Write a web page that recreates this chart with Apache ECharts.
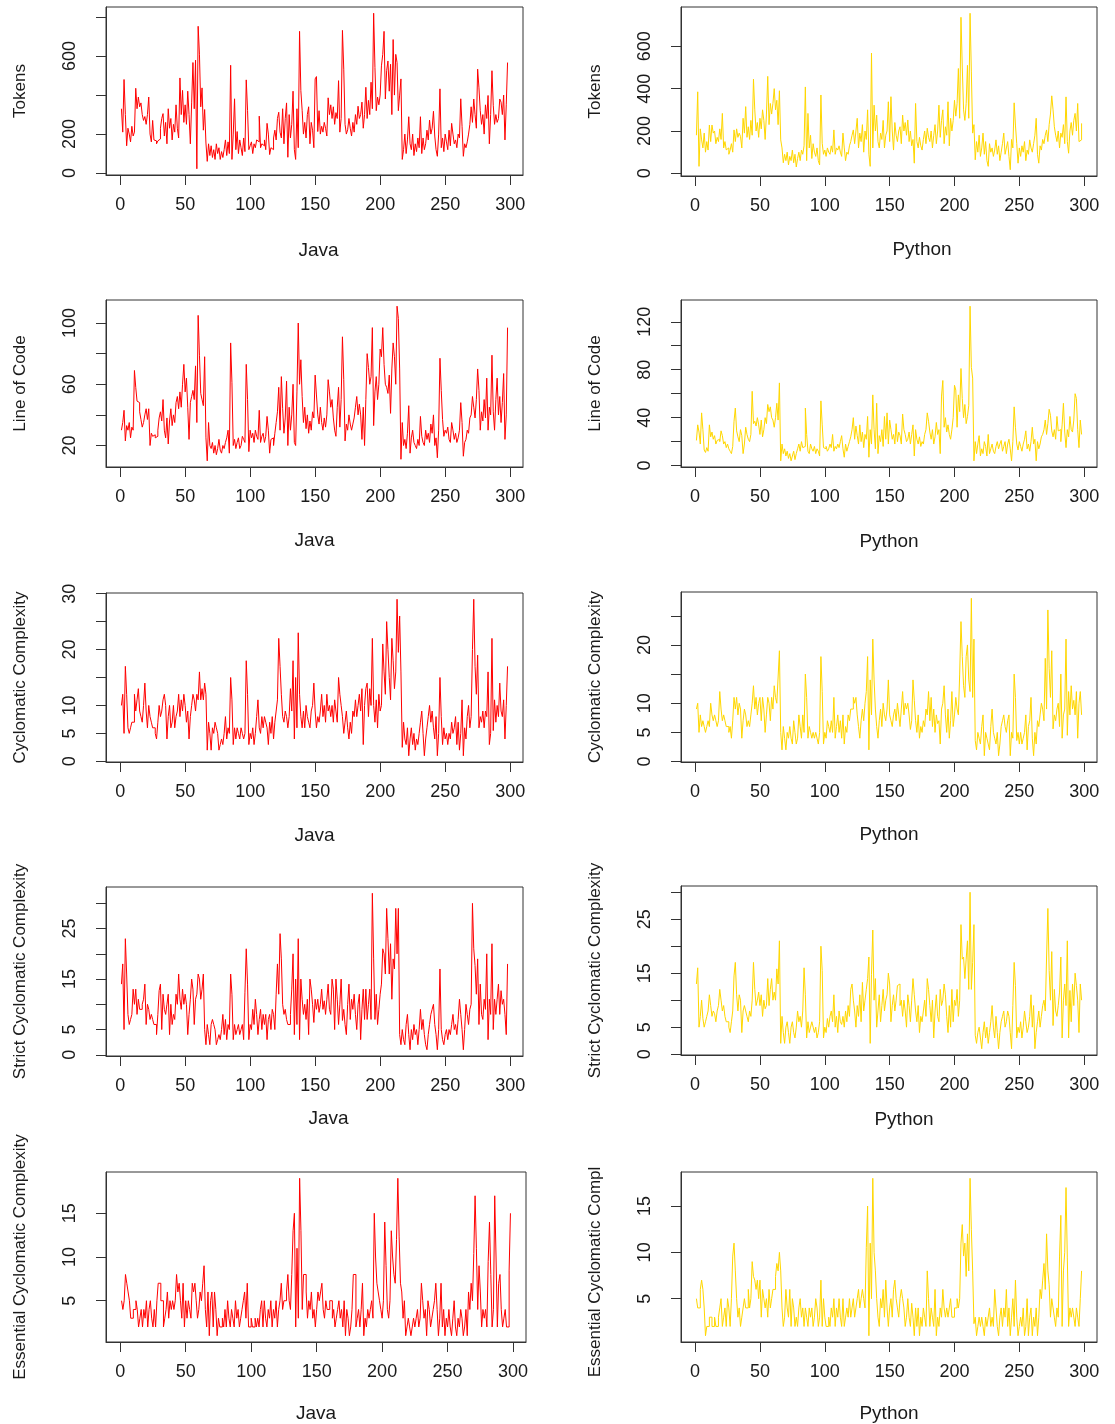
<!DOCTYPE html>
<html>
<head>
<meta charset="utf-8">
<script src="https://cdn.jsdelivr.net/npm/echarts@6/dist/echarts.min.js"></script>
<style>
  html, body { margin: 0; padding: 0; background: #fff; }
  #main { width: 1115px; height: 1424px; }
</style>
</head>
<body>
<div id="main"></div>
<script>
// values per file index (1..298)
var javaTokens = [
  330,210,480,300,140,230,200,160,240,190,
  210,435,330,390,340,360,300,270,290,250,
  300,390,200,160,270,170,165,150,165,175,
  230,280,305,190,260,150,330,230,280,170,
  250,210,350,230,180,488,300,424,260,350,
  250,420,300,150,360,567,330,579,22,753,
  610,340,437,220,326,154,60,150,90,140,
  80,120,70,150,100,130,70,110,80,120,
  170,90,160,100,553,70,200,381,120,213,
  100,170,130,90,180,110,478,322,120,140,
  160,100,150,130,170,160,292,130,150,140,
  170,120,255,200,95,130,120,180,220,170,
  280,312,210,180,330,150,280,360,81,300,
  180,250,420,120,70,330,130,727,423,322,
  200,260,180,300,340,150,260,220,130,483,
  495,213,320,200,240,210,260,230,190,386,
  300,350,280,340,250,310,280,474,210,280,
  732,533,250,200,222,280,230,190,260,210,
  300,250,343,280,300,364,230,300,440,280,
  373,300,466,330,820,542,320,390,350,400,
  550,609,727,380,525,575,420,558,300,685,
  400,609,567,320,400,483,70,120,200,100,
  170,289,150,120,200,90,150,110,180,130,
  289,100,180,120,150,220,170,272,200,230,
  317,190,120,86,200,432,130,180,110,200,
  160,120,220,140,255,200,150,170,130,200,
  180,381,240,86,150,130,160,200,250,340,
  260,380,300,230,533,437,320,250,300,200,
  350,280,398,150,300,525,348,250,300,260,
  280,380,364,300,400,170,350,567
];
var pythonTokens = [
  180,385,33,210,158,120,190,100,150,110,
  228,150,228,190,200,140,170,150,210,160,
  283,120,150,111,120,90,110,140,100,205,
  150,210,170,190,174,120,260,190,315,170,
  220,160,250,180,445,300,200,240,170,260,
  210,300,250,160,280,458,230,330,280,330,
  400,300,345,230,390,158,120,50,90,60,
  100,40,80,60,110,50,90,30,70,100,
  60,110,90,130,408,60,283,120,180,70,
  140,100,80,120,60,40,370,142,90,110,
  80,120,100,90,130,100,205,90,120,110,
  130,100,80,190,120,60,100,90,130,150,
  180,205,140,200,260,120,190,150,230,100,
  200,160,300,90,33,568,120,322,200,275,
  150,120,190,160,250,120,180,200,338,150,
  362,200,110,240,180,150,200,220,140,275,
  200,240,180,252,150,200,130,160,48,330,
  150,120,170,130,110,160,200,140,213,170,
  150,200,120,180,230,140,200,322,170,250,
  300,140,220,180,338,130,260,200,250,345,
  270,330,495,260,737,502,300,250,330,510,
  260,756,479,190,230,64,150,100,180,80,
  120,190,90,150,60,33,140,100,120,80,
  110,158,90,130,60,100,140,190,90,120,
  150,80,17,160,120,333,228,140,48,120,
  80,130,100,150,60,110,90,158,120,100,
  140,180,260,90,48,130,110,160,140,180,
  205,150,230,280,366,300,220,180,150,200,
  120,190,170,230,140,361,150,95,200,240,
  180,250,283,200,330,150,158,236
];
var javaLoc = [
  30,35,43,23,33,30,35,25,32,30,
  69,58,49,48,42,37,32,35,40,44,
  37,44,20,28,26,27,25,26,30,38,
  42,36,50,30,25,38,21,36,44,33,
  40,35,48,52,44,55,45,60,73,55,
  64,45,24,48,52,56,50,72,35,105,
  79,54,50,46,78,25,10,35,20,18,
  22,15,20,14,18,24,17,15,20,18,
  22,25,30,15,87,61,20,24,18,22,
  25,18,20,26,24,22,73,50,16,30,
  25,28,22,30,26,24,43,22,26,28,
  22,26,39,30,15,24,25,20,28,35,
  42,58,30,65,44,28,38,62,20,45,
  30,40,60,22,20,55,100,60,76,52,
  35,45,31,40,28,36,30,42,38,66,
  53,40,34,45,35,30,38,32,40,63,
  55,45,50,38,30,26,45,58,32,50,
  91,63,23,34,30,40,34,30,34,38,
  45,52,40,47,40,24,45,20,50,80,
  71,60,65,97,33,55,65,50,60,83,
  78,97,73,60,58,54,66,41,70,87,
  78,60,111,103,70,11,35,20,24,18,
  28,46,15,25,30,22,20,18,24,20,
  39,26,22,20,30,24,28,22,34,28,
  40,20,25,12,30,77,56,37,26,30,
  28,32,24,22,35,30,24,28,22,25,
  30,48,35,13,22,24,30,28,38,40,
  52,45,38,50,70,56,30,42,36,50,
  38,64,30,45,40,79,42,30,50,64,
  40,52,35,48,67,24,40,97
];
var pythonLoc = [
  21,34,28,18,44,30,13,11,15,12,
  34,24,28,22,25,18,21,22,20,29,
  25,18,20,15,18,14,12,10,16,37,
  48,29,24,20,30,25,10,18,32,26,
  22,20,26,62,35,37,33,40,34,26,
  38,24,30,40,35,51,45,49,40,38,
  32,40,52,38,69,4,18,10,14,8,
  12,6,10,4,8,12,5,10,14,18,
  12,20,15,16,48,26,12,10,18,14,
  12,16,10,14,12,8,54,34,15,14,
  16,12,14,18,15,26,12,16,14,18,
  15,20,25,14,7,18,12,16,20,24,
  30,40,22,33,25,18,34,20,28,15,
  26,22,41,7,30,18,59,30,14,52,
  10,25,20,30,16,41,22,44,18,38,
  30,22,26,18,35,20,28,25,18,43,
  30,26,20,22,28,18,26,34,8,30,
  22,18,24,16,20,18,26,30,44,37,
  28,22,30,18,24,36,26,30,10,58,
  71,32,40,28,34,26,22,30,40,67,
  63,32,59,45,81,56,40,51,35,41,
  50,133,82,73,4,20,10,18,25,8,
  14,10,20,16,8,26,10,14,18,12,
  10,16,20,14,18,21,12,16,20,10,
  18,22,14,4,20,49,32,18,13,20,
  16,12,18,22,29,14,18,12,20,32,
  18,22,4,20,14,18,24,26,30,38,
  26,35,47,42,29,24,30,22,41,29,
  30,20,34,52,28,15,30,24,41,30,
  28,38,60,56,30,15,38,26
];
var javaCc = [
  10,12,5,17,12,6,5,6,7,7,
  12,9,11,13,9,8,7,10,14,9,
  6,10,8,7,6,6,5,4,7,10,
  8,9,11,12,10,4,8,10,6,7,
  10,6,8,9,12,8,11,9,12,10,
  7,9,4,8,10,12,11,9,12,11,
  16,11,13,11,14,12,2,7,5,2,
  6,5,7,6,5,2,3,4,3,5,
  8,4,6,5,15,11,3,6,4,6,
  5,4,6,5,4,5,18,12,3,5,
  4,6,3,5,8,11,6,5,8,6,
  8,7,6,3,7,5,8,4,7,9,
  11,22,17,12,8,7,9,8,6,8,
  13,9,18,4,15,6,23,12,8,6,
  9,6,10,8,7,6,9,10,14,9,
  6,8,7,9,12,8,10,7,12,9,
  10,8,10,7,11,9,7,15,12,10,
  8,5,7,9,6,4,7,5,9,8,
  11,8,10,12,9,13,3,10,13,14,
  8,13,10,22,10,7,11,6,12,9,
  10,21,16,12,25,20,15,11,22,18,
  13,16,29,19.5,26,16,2.5,7,4,3,
  6,1,4,6,3,5,2,4,3,5,
  7,9,5,1,4,6,8,10,7,9,
  6,4,8,1,5,15,8,3,6,4,
  5,3,5,4,7,5,6,8,3,7,
  2,5,11,1,6,4,8,10,6,8,
  20,29,17,12,19,6,8,7,9,6,
  9,8,16,3,5,22,5.5,11,7,10,
  8,14,9,8,11,4,10,17
];
var pythonCc = [
  9,10,5,8,6,7,6,5,6,7,
  6,10,8,7,8,7,6,7,12,9,
  7,8,7,6,6,5,6,4,7,11,
  9,11,8,10,9,4,7,9,8,6,
  7,6,8,10,13,9,11,8,10,11,
  7,11,9,5,8,11,10,7,11,9,
  13,11,10,14.5,19,5,2,6,4,2,
  5,4,6,4,3,7,5,3,4,8,
  6,4,8,5,15,11,4,6,5,4,
  5,4,5,4,3,5,18,12,3,5,
  4,7,6,5,7,5,11,4,6,8,
  5,7,4,8,3,6,5,8,7,9,
  9,11,10,11,8,6,4,7,9,7,
  10,12,18,2,14,8,21,14,9,6,
  4,7,9,6,10,8,7,9,14,8,
  7,6,8,9,7,10,8,6,9,12,
  8,10,9,10,8,5.5,7,14,10.5,7,
  5,8,4,6,5,7,6,9,8,12,
  7,11,6,9,5,8,6.5,7,3,9,
  10,13,8,5,9,4,7,12,6,8,
  11,9,8,15,24,18,13,11,18,20,
  14,12,28,11,21,3.6,2,5,4,3,
  6,8,1,5,4,3,2,6,9,5,
  4,3,5,1,3,6,7,8,6,5,
  7,8,1,5,4,15,11,3.6,5,3,
  5,3,4,5,8,2,6,7,11,4,
  1,5,3,7,6,8,10,9,7,17.7,
  9,26,16,11,19,5.6,8,7,9,10,
  6,15,4,8,9,21,4.5,12,8,13,
  9,10.5,8,12,4,10,12,8
];
var javaStrictCc = [
  14,18,5,23,16,8,6,7,8,13,
  10,13,8,11,9,9,10,11,14,6,
  10,9,7,8,7,6,6,4,8,12.7,
  14,5,12,9,8,10,12,4,10,6,
  8,7,12,10,16,11,9,13,10,12,
  10,4,8,11,15,13,6,11,12,16,
  15,11,13,16,5,2,6,4,2,6,
  7,6,5,2,3,4,3,5,8,4,
  7,3,6,5,16,12,3,6,4,5,
  6,4,5,6,3,12.4,21,14,3,6,
  5,9,6,11,8,4,7,9,5,8,
  6,8,3,7,8,5,9,8,5,12,
  18,12,24,19,10,8,9,7,6,6,
  8,13,20,4,15,6,23,3,15,11,
  8,10,7,11,4,15,13,10,6.4,11,
  9,11,8.4,10,13,9,10.7,8,11,14,
  9,8,15,13,5,15,11,6,10,15,
  6.8,9,6,4,10,14,7,11,9,12,
  8,5,10,12,3,9,13,7,13,7,
  10,13,7,32,19,7,12,6,9,12,
  14,21,20,16,29,23,16,22,11,19,
  17,29,20,29,4,2,5,3,2,6,
  8,4,1,5,3,6,4,5,2,5,
  9,5,7,4,2,1,4,6,8,9,
  10,6,4,1,5,17,5,3,2,4,
  5,3,5,4,6,8,5,6,4,7,
  11,8,5,1,5,10,8,6,9,10,
  30,21,17.7,12,19,6,14,8,7,11,
  9,20,3,11,8,22,5,11,8,11,
  14,8,12.7,10,11,8,4,18
];
var pythonStrictCc = [
  13,16,5,7,10,6.6,5,6,7,8,
  11,9,7,8,7.5,6,8,9,12,10,
  8,9,7,6,6,5,4,6,8,14.5,
  17,11,8,11,10,4,8,9,8,7,
  6,8,7,10,17,12,9,10,11.5,9,
  11,7,10,8.4,9,14,9,12,14,10,
  11.5,10,15.8,13,21,2,7,4,2,5,
  6,4,2,5,6,4,3,5,8,6,
  7,5,8,16,11,3,6,4,5,6,
  5,4,5,3,4,6,20,15.5,3,5,
  4,6.6,5,7,8,6,11,5,7,4,
  8,6,5.5,7,5,8,6,9,7,12,
  13,10,8,5,9,7,11,6,13.3,8,
  10,12,14,18,2,14.8,23,10,14,5,
  8,11,6,9,12,8,10,11,15,13,
  6,9,11,8,10,12.7,13,9,10,7,
  10,8,5,11,9,6,10,14,11,8,
  6,9,4,7,6,8,10,7,14,12,
  9,6,10,3,8,11,7,6,12,9,
  10,13,11,7,4,9,5,12,6,10,
  9,12,7,10,24,17.6,18,14,17.6,21,
  12,30,12,17,24,3.5,2,4,5,3,
  1,4,6,3,5,2,4,6,9,5,
  3,7,4,1,4,6,7,8,5,6,
  8,7,4,1,9,17,12.7,3,5,4,
  6,3,5,8,6,4,5,7,11,5,
  9,1,4,6,8,5,7,9,10,8,
  18,27,15.5,10,19,5.3,12,8,7,9,
  11.5,18,3,10,13,9,21,3,11.8,6,
  13,9,15,12.7,10,4,13,10
];
var javaEssentialCc = [
  5,4,5,8,7,6,5,3,3,4,
  4,5,4,2,3,4,2,4,3,5,
  2,4,5,3,2,4,2,5,7,7,
  5,5,2,3,4,6,3,5,4,5,
  4,5,8,6,7,5,3,7,2,5,
  3,5,4,3,7,6,7,5,3,4,
  6,5,7,9,4,2,6,1,5,6,
  2,6,4,1,3,2,2,3,2,4,
  2,5,3,2,4,3,2,5,3,4,
  2,3,4,5,6,3,7,2,2,3,
  2,2,3,2,3,2,4,5,2,5,
  3,2,4,3,5,2,4,3,5,2,
  4,5,7,4,5,5,6,8,5,4,
  8,13,15,2,11,3,19,13,4,8,
  8,6,3,5,4,6,3,4,2,4,
  6,5,6,7,4,3,5,4,4,5,
  5,3,4,2,3,4,5,3,4,2,
  5,1,4,3,1,2,4,8,8,2,
  3,4,2,4,7,1,3,2,4,3,
  4,5,3,15,10,7,6,5,4,3,
  5,14,9,4,3,5,13,10,8,7,
  12,19,12.3,7,6,3,5,1,2,3,
  2,1,2,3,2,3,4,2,3,7,
  5,3,4,1,5,4,2,3,4,5,
  7,4,1,3,7,2,4,1,3,2,
  4,2,1,3,5,2,1,3,2,4,
  3,1,2,4,1,6,4,7,5,10.4,
  17,11,4,9,6,2,4,3,4,2,
  9.5,14,8,2,4,17,10,2,7,8,
  4,2,3,4,2,2,8.5,15
];
var pythonEssentialCc = [
  5,4,4,6,7,6,4,1,2,2,
  3,3,2,2,3,2,2,3,4,5,
  2,3,4,2,5,4,2,5,9.6,11,
  8,5,3,4,2,3,4,5,4,4,
  6,4,5,9,7.4,7,6,7,5,7,
  3,6,5,4,5,3,6,4,5,6,
  6,7.4,8.8,8,10,8,4,2,3,6,
  4,3,6,2,5,4,2,3,2,4,
  5,3,4,2,4,3,2,4,3,4,
  2,3,5,4,2,3,7,2,5,3,
  2,2,3,2,4,3,5,2,4,3,
  5,3,2,5,2,3,4,3,5,3,
  4,5,3,4,5,6,4,5,6,5,
  4,10.5,15,1,11,5,18,10,8,5,
  3,2,5,4,6,3,7,4,2,4,
  5,3,6,7,5,4,3,5,6,5,
  4,2,3,5,3,2,4.5,3,1,4,
  2,4,1,3,2,4,3,2,8,5,
  2,4,3,2,6,1,3,2,4,3,
  6,4,3,4,3,4,5,3,3,4,
  4,5,4,5,11,13,9.6,11,7.4,12,
  8,18,12.5,8,2.3,3,1,2,3,2,
  3,2,1,3,2,3,4,2,3,2,
  6,4,2,1,3,4,2,4,3,6,
  2,4,1,3,5,2,7,3,1,2,
  3,2,4,1,2,5,1,3,4,1,
  3,2,4,1,3,6,5,7,8.8,6,
  12,8,6.5,3,5,4,3,2,4,3,
  9.6,14,2,8,10,17,9.4,2,4,3,
  4,3,2,4,3,2,5,8
];

// tick positions and the labels R kept
var xTicks = [0, 50, 100, 150, 200, 250, 300];
var tokensJavaTicks = [0, 200, 400, 600, 800], tokensJavaLabels = [0, 200, 600];
var tokensPyTicks = [0, 200, 400, 600], tokensPyLabels = [0, 200, 400, 600];
var locJavaTicks = [20, 40, 60, 80, 100], locJavaLabels = [20, 60, 100];
var locPyTicks = [0, 20, 40, 60, 80, 100, 120], locPyLabels = [0, 40, 80, 120];
var ccJavaTicks = [0, 5, 10, 15, 20, 25, 30], ccJavaLabels = [0, 5, 10, 20, 30];
var ccPyTicks = [0, 5, 10, 15, 20, 25], ccPyLabels = [0, 5, 10, 20];
var strictTicks = [0, 5, 10, 15, 20, 25, 30], strictLabels = [0, 5, 15, 25];
var essentialTicks = [5, 10, 15], essentialLabels = [5, 10, 15];

var RED = '#FF0000', GOLD = '#FFD700';
var FONT = '"Liberation Sans", Arial, Helvetica, sans-serif';

var panels = [
  { data: javaTokens, color: RED, xName: 'Java', yName: 'Tokens', yTicks: tokensJavaTicks, yLabels: tokensJavaLabels },
  { data: pythonTokens, color: GOLD, xName: 'Python', yName: 'Tokens', yTicks: tokensPyTicks, yLabels: tokensPyLabels },
  { data: javaLoc, color: RED, xName: 'Java', yName: 'Line of Code', yTicks: locJavaTicks, yLabels: locJavaLabels },
  { data: pythonLoc, color: GOLD, xName: 'Python', yName: 'Line of Code', yTicks: locPyTicks, yLabels: locPyLabels },
  { data: javaCc, color: RED, xName: 'Java', yName: 'Cyclomatic Complexity', yTicks: ccJavaTicks, yLabels: ccJavaLabels },
  { data: pythonCc, color: GOLD, xName: 'Python', yName: 'Cyclomatic Complexity', yTicks: ccPyTicks, yLabels: ccPyLabels },
  { data: javaStrictCc, color: RED, xName: 'Java', yName: 'Strict Cyclomatic Complexity', yTicks: strictTicks, yLabels: strictLabels },
  { data: pythonStrictCc, color: GOLD, xName: 'Python', yName: 'Strict Cyclomatic Complexity', yTicks: strictTicks, yLabels: strictLabels },
  { data: javaEssentialCc, color: RED, xName: 'Java', yName: 'Essential Cyclomatic Complexity', yTicks: essentialTicks, yLabels: essentialLabels },
  { data: pythonEssentialCc, color: GOLD, xName: 'Python', yName: 'Essential Cyclomatic Compl', yTicks: essentialTicks, yLabels: essentialLabels }
];

// plot boxes [left, top, right, bottom] and axis-title placement
var layout = [
  { box: [106, 7, 523, 175], xGap: 66, xShift: 4 },
  { box: [681, 7, 1097, 176], xGap: 64, xShift: 33 },
  { box: [106, 300, 523, 467], xGap: 64, xShift: 0 },
  { box: [681, 300, 1097, 467], xGap: 65, xShift: 0 },
  { box: [106, 593, 523, 762], xGap: 64, xShift: 0 },
  { box: [681, 592, 1097, 762], xGap: 63, xShift: 0 },
  { box: [106, 887, 523, 1056], xGap: 53, xShift: 14 },
  { box: [681, 886, 1097, 1055], xGap: 55, xShift: 15 },
  { box: [106, 1172, 526, 1342], xGap: 62, xShift: 0 },
  { box: [681, 1172, 1097, 1342], xGap: 62, xShift: 0, yShift: 15 }
];

var option = { animation: false, backgroundColor: '#fff', grid: [], xAxis: [], yAxis: [], series: [] };

panels.forEach(function (p, k) {
  var L = layout[k];
  var n = p.data.length;
  var lo = Math.min.apply(null, p.data), hi = Math.max.apply(null, p.data);
  // R's default 4% range extension
  var yPad = (hi - lo) * 0.04, xPad = (n - 1) * 0.04;

  option.grid.push({
    left: L.box[0], top: L.box[1],
    width: L.box[2] - L.box[0], height: L.box[3] - L.box[1],
    show: true, borderColor: '#333', borderWidth: 1, backgroundColor: 'transparent'
  });

  option.xAxis.push({
    type: 'value', gridIndex: k, min: 1 - xPad, max: n + xPad,
    axisLine: { show: true, onZero: false, lineStyle: { color: '#333' } },
    axisTick: { show: true, length: 10, customValues: xTicks, lineStyle: { color: '#333' } },
    axisLabel: { customValues: xTicks, margin: 21, fontSize: 18, color: '#1a1a1a', fontFamily: FONT },
    splitLine: { show: false },
    name: p.xName, nameLocation: 'middle', nameGap: L.xGap,
    nameTextStyle: { fontSize: 19, color: '#1a1a1a', fontFamily: FONT, padding: [0, 0, 0, 2 * L.xShift] }
  });

  option.yAxis.push({
    type: 'value', gridIndex: k, min: lo - yPad, max: hi + yPad,
    axisLine: { show: true, onZero: false, lineStyle: { color: '#333' } },
    axisTick: { show: true, length: 10, customValues: p.yTicks, lineStyle: { color: '#333' } },
    axisLabel: { customValues: p.yLabels, rotate: 90, margin: 27, fontSize: 18, color: '#1a1a1a', fontFamily: FONT },
    splitLine: { show: false },
    name: p.yName, nameLocation: 'middle', nameGap: 77, nameRotate: 90,
    nameTextStyle: { fontSize: 17, color: '#1a1a1a', fontFamily: FONT, padding: [0, 2 * (L.yShift || 0), 0, 0] }
  });

  // R type="s" style stair line
  option.series.push({
    type: 'line', xAxisIndex: k, yAxisIndex: k,
    data: p.data.map(function (v, i) { return [i + 1, v]; }),
    step: 'end', showSymbol: false, symbol: 'none',
    lineStyle: { color: p.color, width: 1 },
    clip: true
  });
});

var chart = echarts.init(document.getElementById('main'));
chart.setOption(option);
</script>
</body>
</html>
